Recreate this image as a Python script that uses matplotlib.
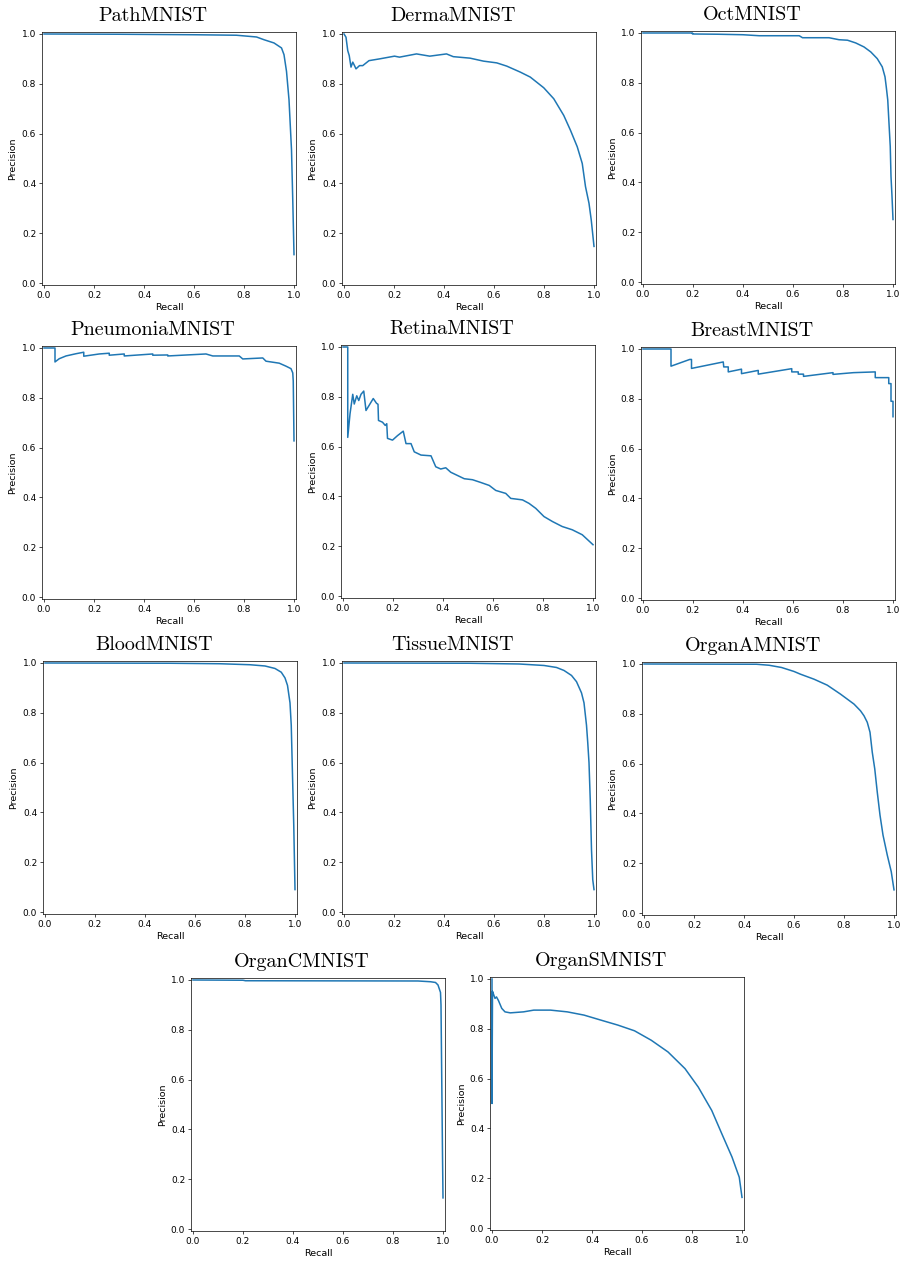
import matplotlib
matplotlib.use("Agg")
import matplotlib.pyplot as plt

# dataset names, in the order they are drawn
names = ["PathMNIST", "DermaMNIST", "OctMNIST",
         "PneumoniaMNIST", "RetinaMNIST", "BreastMNIST",
         "BloodMNIST", "TissueMNIST", "OrganAMNIST",
         "OrganCMNIST", "OrganSMNIST"]

# precision-recall curves
path_recall = [0.0, 0.3, 0.6, 0.77, 0.85, 0.88, 0.92, 0.95, 0.96, 0.97, 0.98, 0.99, 0.995, 1.0]
path_prec = [1.0, 0.999, 0.997, 0.995, 0.988, 0.977, 0.964, 0.944, 0.917, 0.85, 0.736, 0.535, 0.335, 0.114]

derma_recall = [0.0, 0.008, 0.015, 0.021, 0.028, 0.035, 0.042, 0.048, 0.062, 0.075, 0.10, 0.142,
                0.202, 0.222, 0.29, 0.343, 0.41, 0.437, 0.504, 0.558, 0.611, 0.651, 0.705, 0.745,
                0.799, 0.839, 0.879, 0.906, 0.933, 0.953, 0.966, 0.98, 0.989, 1.0]
derma_prec = [1.0, 0.987, 0.933, 0.913, 0.867, 0.887, 0.873, 0.86, 0.873, 0.873, 0.893, 0.90,
              0.911, 0.907, 0.92, 0.911, 0.92, 0.909, 0.903, 0.891, 0.884, 0.871, 0.847, 0.827,
              0.784, 0.74, 0.673, 0.613, 0.547, 0.48, 0.387, 0.32, 0.253, 0.147]

oct_recall = [0.0, 0.198, 0.198, 0.30, 0.40, 0.465, 0.625, 0.638, 0.744, 0.784, 0.818, 0.851,
              0.884, 0.911, 0.937, 0.957, 0.968, 0.973, 0.979, 0.984, 0.989, 0.992, 0.996, 1.0]
oct_prec = [1.0, 1.0, 0.996, 0.995, 0.993, 0.989, 0.989, 0.981, 0.981, 0.973, 0.971, 0.96,
            0.944, 0.924, 0.897, 0.864, 0.824, 0.784, 0.731, 0.637, 0.544, 0.424, 0.344, 0.251]

pneu_recall = [0.0, 0.044, 0.044, 0.061, 0.088, 0.128, 0.159, 0.159, 0.221, 0.261, 0.261, 0.321,
               0.321, 0.435, 0.435, 0.495, 0.495, 0.648, 0.675, 0.781, 0.795, 0.875, 0.888,
               0.941, 0.968, 0.988, 0.995, 0.997, 1.0]
pneu_prec = [1.0, 1.0, 0.944, 0.957, 0.968, 0.977, 0.983, 0.967, 0.976, 0.979, 0.971, 0.976,
             0.968, 0.976, 0.971, 0.972, 0.968, 0.976, 0.968, 0.968, 0.956, 0.96, 0.947,
             0.939, 0.927, 0.917, 0.90, 0.867, 0.627]

retina_recall = [0.0, 0.019, 0.019, 0.028, 0.039, 0.045, 0.055, 0.063, 0.072, 0.083, 0.092, 0.121,
                 0.134, 0.140, 0.142, 0.158, 0.169, 0.175, 0.178, 0.198, 0.218, 0.241, 0.252,
                 0.272, 0.285, 0.312, 0.352, 0.371, 0.391, 0.411, 0.431, 0.458, 0.485, 0.518,
                 0.551, 0.585, 0.611, 0.651, 0.671, 0.718, 0.744, 0.771, 0.804, 0.838, 0.877,
                 0.917, 0.957, 1.0]
retina_prec = [1.0, 1.0, 0.637, 0.731, 0.81, 0.771, 0.804, 0.785, 0.81, 0.823, 0.745, 0.793,
               0.774, 0.770, 0.705, 0.698, 0.685, 0.692, 0.633, 0.626, 0.644, 0.662, 0.612,
               0.612, 0.579, 0.566, 0.563, 0.519, 0.51, 0.515, 0.497, 0.484, 0.471, 0.467,
               0.456, 0.444, 0.424, 0.412, 0.392, 0.386, 0.372, 0.352, 0.319, 0.299, 0.279,
               0.266, 0.246, 0.206]

breast_recall = [0.0, 0.112, 0.112, 0.187, 0.194, 0.194, 0.321, 0.323, 0.341, 0.341, 0.394, 0.394,
                 0.461, 0.461, 0.595, 0.595, 0.621, 0.621, 0.642, 0.642, 0.76, 0.76, 0.842,
                 0.929, 0.929, 0.983, 0.983, 0.992, 0.992, 1.0, 1.0]
breast_prec = [1.0, 1.0, 0.931, 0.958, 0.958, 0.922, 0.948, 0.928, 0.928, 0.908, 0.919, 0.901,
               0.914, 0.899, 0.921, 0.908, 0.908, 0.899, 0.899, 0.89, 0.905, 0.898, 0.905,
               0.908, 0.885, 0.885, 0.861, 0.861, 0.79, 0.79, 0.728]

blood_recall = [0.0, 0.5, 0.7, 0.82, 0.88, 0.92, 0.945, 0.96, 0.97, 0.98, 0.985, 0.99, 0.995, 1.0]
blood_prec = [1.0, 0.999, 0.997, 0.993, 0.988, 0.978, 0.963, 0.94, 0.91, 0.84, 0.75, 0.55, 0.35, 0.09]

tissue_recall = [0.0, 0.5, 0.7, 0.8, 0.85, 0.88, 0.91, 0.93, 0.95, 0.96, 0.97, 0.975, 0.98,
                 0.985, 0.99, 0.995, 1.0]
tissue_prec = [1.0, 0.999, 0.996, 0.99, 0.982, 0.97, 0.95, 0.925, 0.88, 0.84, 0.75, 0.68, 0.60,
               0.45, 0.25, 0.13, 0.09]

organa_recall = [0.0, 0.45, 0.5, 0.55, 0.6, 0.626, 0.68, 0.733, 0.786, 0.84, 0.866, 0.88, 0.893,
                 0.904, 0.913, 0.923, 0.933, 0.944, 0.956, 0.973, 0.989, 1.0]
organa_prec = [1.0, 0.999, 0.995, 0.986, 0.97, 0.959, 0.939, 0.915, 0.879, 0.839, 0.812, 0.792,
               0.766, 0.726, 0.646, 0.579, 0.486, 0.393, 0.313, 0.233, 0.166, 0.093]

organc_recall = [0.0, 0.2, 0.21, 0.9, 0.95, 0.97, 0.98, 0.99, 0.992, 0.995, 0.998, 1.0]
organc_prec = [1.0, 0.999, 0.997, 0.996, 0.993, 0.99, 0.98, 0.95, 0.90, 0.60, 0.30, 0.125]

organs_recall = [0.0, 0.0, 0.002, 0.005, 0.012, 0.018, 0.026, 0.039, 0.052, 0.073, 0.126, 0.167,
                 0.234, 0.301, 0.368, 0.435, 0.503, 0.57, 0.637, 0.704, 0.772, 0.825, 0.879,
                 0.919, 0.96, 0.989, 1.0]
organs_prec = [1.0, 0.5, 0.95, 0.942, 0.922, 0.928, 0.913, 0.882, 0.868, 0.864, 0.868, 0.875,
               0.875, 0.868, 0.855, 0.835, 0.815, 0.792, 0.754, 0.707, 0.64, 0.566, 0.472,
               0.379, 0.285, 0.204, 0.123]

recalls = [path_recall, derma_recall, oct_recall, pneu_recall, retina_recall, breast_recall,
           blood_recall, tissue_recall, organa_recall, organc_recall, organs_recall]
precisions = [path_prec, derma_prec, oct_prec, pneu_prec, retina_prec, breast_prec,
              blood_prec, tissue_prec, organa_prec, organc_prec, organs_prec]

W, H = 907, 1265
# top-left corner of each axes, in pixels
corners = [(42, 32), (342, 32), (641, 31),
           (42, 346), (341, 345), (641, 347),
           (43, 661), (342, 661), (642, 662),
           (191, 978), (490, 977)]
aw, ah = 254, 253

fig = plt.figure(figsize=(W / 100, H / 100), dpi=100)

for i, name in enumerate(names):
    x0, y0 = corners[i]
    ax = fig.add_axes([x0 / W, 1 - (y0 + ah) / H, aw / W, ah / H])
    ax.plot(recalls[i], precisions[i], color="#1f77b4", lw=1.1)
    ax.set_xlim(-0.008, 1.008)
    ax.set_ylim(-0.008, 1.008)
    ax.set_xticks([0, 0.2, 0.4, 0.6, 0.8, 1.0])
    ax.set_yticks([0, 0.2, 0.4, 0.6, 0.8, 1.0])
    ax.tick_params(labelsize=6.5, length=2.2, width=0.5, pad=2)
    for s in ax.spines.values():
        s.set_linewidth(0.5)
    ax.set_xlabel("Recall", fontsize=6.8, labelpad=2)
    ax.set_ylabel("Precision", fontsize=6.8, labelpad=3)
    # the titles sit a bit left of the axes centre in the reference
    ax.set_title(name, fontfamily="cmr10", fontsize=14.5, pad=8, x=0.437)

plt.savefig("out.png", dpi=100)
